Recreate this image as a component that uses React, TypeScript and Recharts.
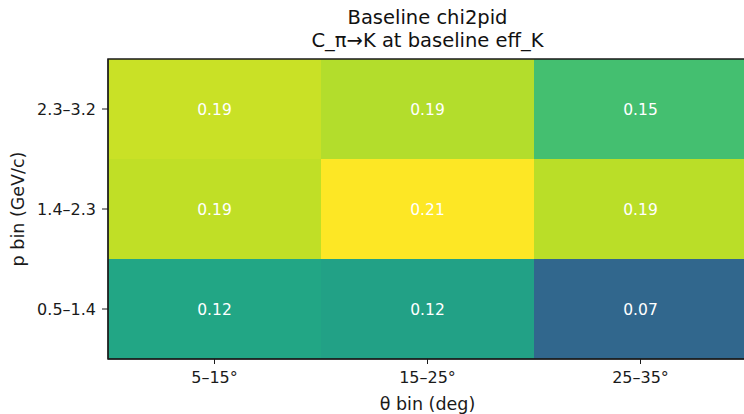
import React from 'react';
import { ScatterChart, Scatter, XAxis, YAxis, ReferenceArea, Label } from 'recharts';

// theta bins along x, momentum bins along y (bottom to top)
const thetaBins = ['5–15°', '15–25°', '25–35°'];
const pBins = ['0.5–1.4', '1.4–2.3', '2.3–3.2'];

// C_pi->K per theta bin, one array per p bin
const pLow = [0.124, 0.12, 0.07];
const pMid = [0.19, 0.21, 0.188];
const pHigh = [0.193, 0.186, 0.147];
const rows = [pLow, pMid, pHigh];

const VMIN = 0;
const VMAX = Math.max(...rows.flat());

const viridisStops = [
  '#440154', '#482475', '#414487', '#355f8d', '#2a788e', '#21918c',
  '#22a884', '#44bf70', '#7ad151', '#bddf26', '#fde725',
];

function hexToRgb(h: string) {
  return [1, 3, 5].map((i) => parseInt(h.slice(i, i + 2), 16));
}

function viridis(t: number) {
  const c = Math.min(1, Math.max(0, t)) * (viridisStops.length - 1);
  const i = Math.min(Math.floor(c), viridisStops.length - 2);
  const f = c - i;
  const a = hexToRgb(viridisStops[i]);
  const b = hexToRgb(viridisStops[i + 1]);
  const rgb = a.map((v, k) => Math.round(v + (b[k] - v) * f));
  return `rgb(${rgb.join(',')})`;
}

const cells = rows.flatMap((row, y) =>
  row.map((value, x) => ({ x, y, value, color: viridis((value - VMIN) / (VMAX - VMIN)) }))
);

const FONT = '"DejaVu Sans", sans-serif';
const INK = '#1a1a1a';

export default function App() {
  return (
    <div style={{ position: 'relative', width: 744, height: 414, overflow: 'hidden', fontFamily: FONT, background: '#fff' }}>
      <style>{'body{margin:0;overflow:hidden}'}</style>
      <div
        style={{
          position: 'absolute',
          left: 108,
          width: 639,
          top: 6,
          textAlign: 'center',
          fontSize: 19.5,
          lineHeight: '23px',
          color: '#111',
        }}
      >
        <div>Baseline chi2pid</div>
        <div>C_π→K at baseline eff_K</div>
      </div>
      <ScatterChart width={747} height={414} margin={{ top: 59, right: 0, bottom: 0, left: 0 }}>
        <XAxis
          type="number"
          dataKey="x"
          domain={[-0.5, 2.5]}
          ticks={[0, 1, 2]}
          tickFormatter={(i: number) => thetaBins[i]}
          allowDataOverflow
          height={55}
          tickSize={5}
          tickMargin={8}
          stroke={INK}
          tick={{ fill: INK, fontSize: 16, fontFamily: FONT }}
        >
          <Label value="θ bin (deg)" position="insideBottom" offset={4} fill={INK} fontSize={17.5} fontFamily={FONT} />
        </XAxis>
        <YAxis
          type="number"
          dataKey="y"
          domain={[-0.5, 2.5]}
          ticks={[0, 1, 2]}
          tickFormatter={(i: number) => pBins[i]}
          allowDataOverflow
          width={108}
          tickSize={6}
          tickMargin={6}
          stroke={INK}
          tick={{ fill: INK, fontSize: 16, fontFamily: FONT }}
        >
          <Label
            value="p bin (GeV/c)"
            angle={-90}
            position="insideLeft"
            offset={18}
            fill={INK}
            fontSize={17.5}
            fontFamily={FONT}
            style={{ textAnchor: 'middle' }}
          />
        </YAxis>
        {cells.map((c) => (
          <ReferenceArea
            key={`${c.x}-${c.y}`}
            x1={c.x - 0.5}
            x2={c.x + 0.5}
            y1={c.y - 0.5}
            y2={c.y + 0.5}
            fill={c.color}
            fillOpacity={1}
            stroke="none"
            label={{ value: c.value.toFixed(2), position: 'center', fill: '#fff', fontSize: 15.5, fontFamily: FONT }}
          />
        ))}
        <ReferenceArea x1={-0.5} x2={2.5} y1={-0.5} y2={2.5} fill="none" stroke={INK} strokeWidth={1.5} />
        <Scatter data={cells} isAnimationActive={false} shape={() => <g />} />
      </ScatterChart>
    </div>
  );
}
